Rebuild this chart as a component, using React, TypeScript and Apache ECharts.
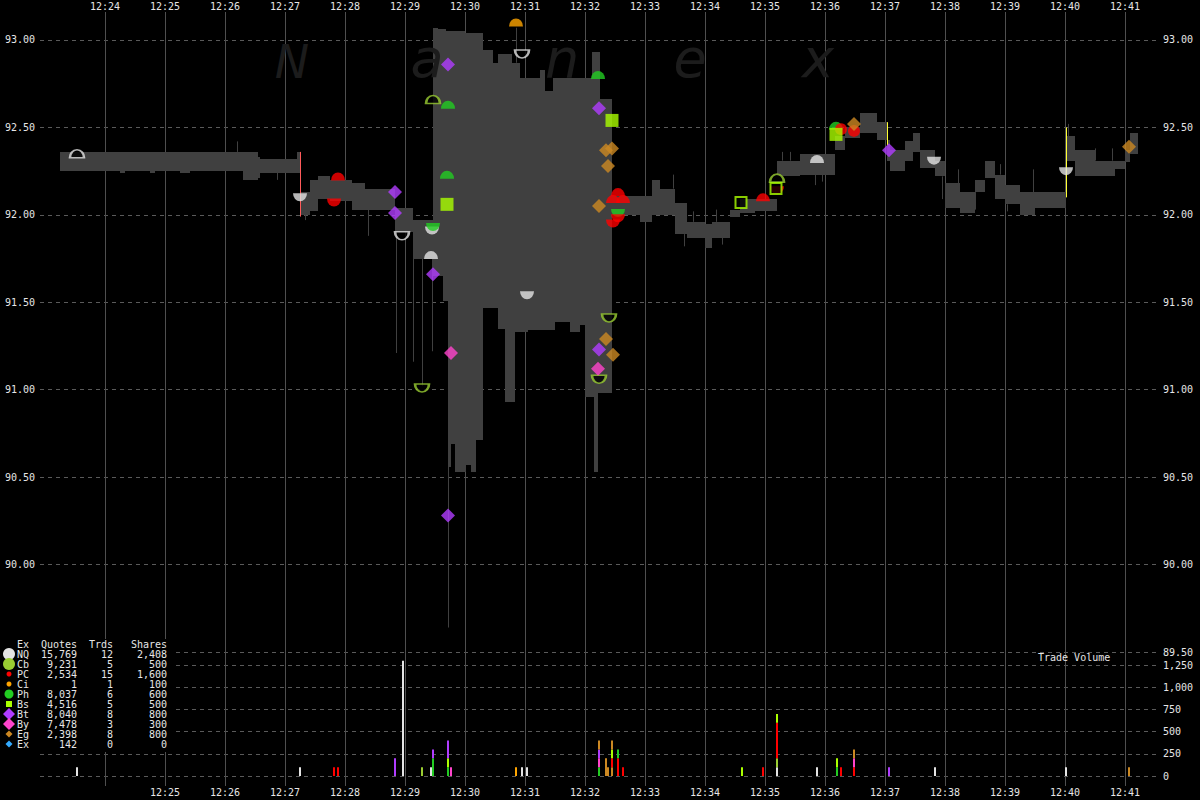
import React, { useEffect, useRef } from 'react';
import * as echarts from 'echarts';

// minute grid labels (top axis shows all, bottom starts at 12:25)
const minuteTicks = [
  '12:24', '12:25', '12:26', '12:27', '12:28', '12:29', '12:30', '12:31', '12:32',
  '12:33', '12:34', '12:35', '12:36', '12:37', '12:38', '12:39', '12:40', '12:41',
];

// NBBO band: each row lasts until the next time (last one until bandEnd)
const bandTimes = [
  '12:23:15', '12:24:15', '12:24:20', '12:24:45', '12:24:50', '12:25:15', '12:25:25', '12:26:18',
  '12:26:33', '12:26:35', '12:27:12', '12:27:15', '12:27:25', '12:27:33', '12:27:45', '12:28:07',
  '12:28:20', '12:28:50', '12:29:08', '12:29:28', '12:29:33', '12:29:38', '12:29:41', '12:29:43',
  '12:29:46', '12:29:50', '12:30:00', '12:30:01', '12:30:06', '12:30:11', '12:30:18', '12:30:28',
  '12:30:33', '12:30:40', '12:30:47', '12:30:50', '12:30:55', '12:31:03', '12:31:15', '12:31:20',
  '12:31:28', '12:31:30', '12:31:45', '12:31:55', '12:32:00', '12:32:07', '12:32:09', '12:32:13',
  '12:32:15', '12:32:27', '12:32:55', '12:33:07', '12:33:15', '12:33:30', '12:33:42', '12:34:00',
  '12:34:07', '12:34:25', '12:34:35', '12:34:50', '12:35:12', '12:35:35', '12:36:10', '12:36:20',
  '12:36:35', '12:36:52', '12:37:02', '12:37:05', '12:37:20', '12:37:28', '12:37:35', '12:37:50',
  '12:38:00', '12:38:15', '12:38:30', '12:38:40', '12:38:50', '12:39:00', '12:39:15', '12:39:30',
  '12:40:01', '12:40:10', '12:40:30', '12:40:50', '12:41:00', '12:41:05',
];
const bandAsk = [
  92.36, 92.36, 92.36, 92.36, 92.36, 92.36, 92.36, 92.36,
  92.33, 92.32, 92.36, 92.13, 92.20, 92.22, 92.20, 92.18,
  92.15, 92.04, 91.97, 93.07, 93.06, 93.06, 93.05, 93.05,
  93.05, 93.05, 93.04, 93.04, 93.04, 93.04, 92.94, 92.87,
  92.92, 92.92, 92.87, 92.87, 92.78, 92.78, 92.83, 92.71,
  92.78, 92.78, 92.78, 92.78, 92.78, 92.93, 92.93, 92.93,
  92.66, 92.11, 92.11, 92.20, 92.15, 92.07, 91.96, 91.95,
  91.96, 92.03, 92.09, 92.09, 92.31, 92.35, 92.45, 92.50,
  92.58, 92.53, 92.43, 92.37, 92.42, 92.47, 92.37, 92.31,
  92.18, 92.13, 92.20, 92.31, 92.23, 92.17, 92.13, 92.13,
  92.45, 92.37, 92.31, 92.31, 92.37, 92.47,
];
const bandBid = [
  92.25, 92.24, 92.25, 92.24, 92.25, 92.24, 92.25, 92.20,
  92.21, 92.24, 92.24, 92.00, 92.02, 92.09, 92.08, 92.03,
  92.03, 91.90, 91.75, 91.65, 91.65, 91.51, 91.51, 90.56,
  90.69, 90.53, 90.53, 90.57, 90.53, 90.71, 91.47, 91.47,
  91.35, 90.93, 90.93, 91.33, 91.33, 91.34, 91.34, 91.34,
  91.34, 91.39, 91.33, 91.37, 90.96, 90.96, 90.53, 90.98,
  90.98, 92.00, 91.96, 92.00, 92.00, 91.89, 91.87, 91.81,
  91.87, 91.99, 92.01, 92.02, 92.22, 92.23, 92.37, 92.44,
  92.47, 92.43, 92.31, 92.25, 92.31, 92.36, 92.27, 92.22,
  92.04, 92.01, 92.13, 92.21, 92.09, 92.06, 92.00, 92.04,
  92.31, 92.22, 92.22, 92.26, 92.30, 92.35,
];
const bandEnd = '12:41:13';

// thin quote flickers [time, high, low]
const quoteSpikes: [string, number, number][] = [
  ['12:26:12', 92.42, 92.36],
  ['12:26:52', 92.24, 92.20],
  ['12:27:20', 92.00, 91.97],
  ['12:28:23', 92.03, 91.88],
  ['12:28:51', 92.04, 91.21],
  ['12:29:08', 91.90, 91.16],
  ['12:29:17', 91.75, 91.02],
  ['12:29:27', 91.75, 91.22],
  ['12:29:43', 90.56, 89.64],
  ['12:30:51', 93.07, 92.87],
  ['12:33:28', 92.23, 92.15],
  ['12:33:39', 91.89, 91.82],
  ['12:33:48', 92.02, 91.96],
  ['12:34:11', 92.03, 91.96],
  ['12:34:17', 91.87, 91.83],
  ['12:35:17', 92.36, 92.31],
  ['12:35:25', 92.36, 92.31],
  ['12:35:50', 92.23, 92.17],
  ['12:35:57', 92.23, 92.19],
  ['12:37:57', 92.22, 92.09],
  ['12:38:13', 92.26, 92.18],
  ['12:38:30', 92.13, 92.03],
  ['12:38:55', 92.29, 92.23],
  ['12:39:02', 92.06, 92.02],
  ['12:39:28', 92.26, 92.13],
  ['12:40:03', 92.52, 92.45],
  ['12:40:30', 92.38, 92.31],
  ['12:40:47', 92.38, 92.31],
];
const redPrints: [string, number, number][] = [['12:27:15', 92.36, 91.99]];
const yellowPrints: [string, number, number][] = [
  ['12:37:02', 92.53, 92.40],
  ['12:40:01', 92.50, 92.10],
];

// exchange summary table
const exCodes = ['NQ', 'Cb', 'PC', 'Ci', 'Ph', 'Bs', 'Bt', 'By', 'Eg', 'Ex'];
const exQuotes = [15769, 9231, 2534, 1, 8037, 4516, 8040, 7478, 2398, 142];
const exTrades = [12, 5, 15, 1, 6, 5, 8, 3, 8, 0];
const exShares = [2408, 500, 1600, 100, 600, 500, 800, 300, 800, 0];

// markers [time, price, kind]: u/n filled top/bottom half, U/N hollow halves, o full, O hollow
const nqMarks: [string, number, string][] = [
  ['12:23:32', 92.35, 'U'], ['12:27:15', 92.10, 'n'], ['12:28:57', 91.88, 'N'],
  ['12:29:26', 91.77, 'u'], ['12:29:27', 91.91, 'n'], ['12:30:57', 92.92, 'N'],
  ['12:31:02', 91.54, 'n'], ['12:35:52', 92.32, 'u'], ['12:37:49', 92.31, 'n'],
  ['12:40:01', 92.25, 'n'],
];
const cbMarks: [string, number, string][] = [
  ['12:29:28', 92.66, 'U'], ['12:29:17', 91.01, 'N'], ['12:32:24', 91.41, 'N'],
  ['12:32:14', 91.06, 'N'], ['12:35:12', 92.21, 'U'],
];
const pcMarks: [string, number, string][] = [
  ['12:27:53', 92.22, 'u'], ['12:27:49', 92.07, 'n'], ['12:32:28', 92.09, 'u'],
  ['12:32:38', 92.09, 'u'], ['12:32:33', 92.13, 'u'], ['12:32:33', 91.98, 'n'],
  ['12:32:28', 91.95, 'n'], ['12:34:58', 92.10, 'u'], ['12:35:12', 92.14, 'n'],
  ['12:36:16', 92.49, 'o'], ['12:36:29', 92.48, 'o'],
];
const ciMarks: [string, number, string][] = [['12:30:51', 93.10, 'u']];
const phMarks: [string, number, string][] = [
  ['12:32:13', 92.80, 'u'], ['12:29:43', 92.63, 'u'], ['12:29:42', 92.23, 'u'],
  ['12:29:28', 91.93, 'n'], ['12:32:33', 92.01, 'n'], ['12:36:11', 92.51, 'u'],
];
const bsMarks: [string, number, string][] = [
  ['12:32:27', 92.54, 'o'], ['12:29:42', 92.06, 'o'], ['12:34:36', 92.07, 'O'],
  ['12:35:11', 92.15, 'O'], ['12:36:11', 92.46, 'o'],
];
const btMarks: [string, number, string][] = [
  ['12:29:43', 92.86, 'o'], ['12:32:14', 92.61, 'o'], ['12:28:50', 92.13, 'o'],
  ['12:28:50', 92.01, 'o'], ['12:29:28', 91.66, 'o'], ['12:29:43', 90.28, 'o'],
  ['12:32:14', 91.23, 'o'], ['12:37:04', 92.37, 'o'],
];
const byMarks: [string, number, string][] = [
  ['12:29:46', 91.21, 'o'], ['12:32:13', 91.12, 'o'],
];
const egMarks: [string, number, string][] = [
  ['12:32:21', 92.37, 'o'], ['12:32:27', 92.38, 'o'], ['12:32:23', 92.28, 'o'],
  ['12:32:14', 92.05, 'o'], ['12:32:21', 91.29, 'o'], ['12:32:28', 91.20, 'o'],
  ['12:36:29', 92.52, 'o'], ['12:41:04', 92.39, 'o'],
];

// trade volume prints (same time stacks in order)
const volTimes = [
  '12:23:32', '12:27:15', '12:27:49', '12:27:53', '12:28:50', '12:28:58', '12:29:17', '12:29:26',
  '12:29:28', '12:29:28', '12:29:43', '12:29:43', '12:29:43', '12:29:46', '12:30:51', '12:30:57',
  '12:31:02', '12:32:14', '12:32:14', '12:32:14', '12:32:14', '12:32:21', '12:32:23', '12:32:27',
  '12:32:27', '12:32:27', '12:32:27', '12:32:33', '12:32:33', '12:32:38', '12:34:37', '12:34:58',
  '12:35:12', '12:35:12', '12:35:12', '12:35:12', '12:35:52', '12:36:12', '12:36:12', '12:36:16',
  '12:36:29', '12:36:29', '12:36:29', '12:37:04', '12:37:50', '12:40:01', '12:41:04',
];
const volEx = [
  'NQ', 'NQ', 'PC', 'PC', 'Bt', 'NQ', 'Cb', 'NQ',
  'Ph', 'Bt', 'Ph', 'Bs', 'Bt', 'By', 'Ci', 'NQ',
  'NQ', 'Ph', 'By', 'Bt', 'Eg', 'Eg', 'Eg', 'Eg',
  'PC', 'Bs', 'Eg', 'PC', 'Ph', 'PC', 'Bs', 'PC',
  'NQ', 'Cb', 'PC', 'Bs', 'NQ', 'Ph', 'Bs', 'PC',
  'PC', 'By', 'Eg', 'Bt', 'NQ', 'NQ', 'Eg',
];
const volShares = [
  100, 100, 100, 100, 200, 1300, 100, 100,
  200, 100, 100, 100, 200, 100, 100, 100,
  100, 100, 100, 100, 100, 200, 100, 100,
  100, 100, 100, 200, 100, 100, 100, 100,
  100, 100, 400, 100, 100, 100, 100, 100,
  100, 100, 100, 100, 100, 100, 100,
];

const exColors: Record<string, string> = {
  NQ: '#e4e4e4', Cb: '#9acd32', PC: '#ff0000', Ci: '#ffa500', Ph: '#22cc22',
  Bs: '#aaff00', Bt: '#b03cff', By: '#ff44cc', Eg: '#cc8822', Ex: '#33aaff',
};
const exShape: Record<string, string> = {
  NQ: 'circle', Cb: 'circle', PC: 'circle', Ci: 'circle', Ph: 'circle',
  Bs: 'square', Bt: 'diamond', By: 'diamond', Eg: 'diamond', Ex: 'diamond',
};

const FONT = '"DejaVu Sans Mono", monospace';
const TXT = '#e6e6e6';
const BAND = '#404040';
const VLINE = '#4f4f4f';
const DASH = '#5a5a5a';

const toSec = (s: string) => {
  const [h, m, sec] = s.split(':').map(Number);
  return (h - 12) * 3600 + m * 60 + (sec || 0);
};
const minuteLabel = (v: number) => {
  if (v % 60 !== 0) return '';
  const m = v / 60;
  return `12:${m < 10 ? '0' + m : m}`;
};
const isHalf = (v: number) => Math.abs(v * 2 - Math.round(v * 2)) < 1e-6 && v <= 93.0001;

const DOME = 'path://M0,8A8,8,0,0,1,16,8Z';
const BOWL = 'path://M0,0A8,8,0,0,0,16,0Z';

function markerItem(ex: string, t: string, p: number, k: string) {
  const c = exColors[ex];
  const hollow = k === 'U' || k === 'N' || k === 'O';
  const itemStyle = hollow
    ? { color: '#000', borderColor: c, borderWidth: 2 }
    : { color: c, borderWidth: 0 };
  let symbol = 'circle';
  let symbolSize: number | number[] = 12;
  if (k === 'u' || k === 'U') { symbol = DOME; symbolSize = [14, 8]; }
  else if (k === 'n' || k === 'N') { symbol = BOWL; symbolSize = [14, 8]; }
  else if (exShape[ex] === 'square') { symbol = 'rect'; symbolSize = hollow ? 11 : 13; }
  else if (exShape[ex] === 'diamond') { symbol = 'diamond'; symbolSize = 14; }
  return { value: [toSec(t), p], symbol, symbolSize, itemStyle };
}

const App: React.FC = () => {
  const chartRef = useRef<HTMLDivElement | null>(null);

  useEffect(() => {
    if (!chartRef.current) return;
    const chart = echarts.init(chartRef.current, null, { renderer: 'svg' });

    const bandRows = bandTimes.map((t, i) => [
      toSec(t), toSec(bandTimes[i + 1] ?? bandEnd), bandAsk[i], bandBid[i],
    ]);

    // stack volume prints at equal times
    const volRows: number[][] = [];
    let lastT = -1;
    let acc = 0;
    volTimes.forEach((ts, i) => {
      const t = toSec(ts);
      if (t !== lastT) { acc = 0; lastT = t; }
      volRows.push([t, acc, acc + volShares[i], exCodes.indexOf(volEx[i])]);
      acc += volShares[i];
    });

    const lineSeries = (rows: [string, number, number][], color: string, z: number) => ({
      type: 'custom', xAxisIndex: 0, yAxisIndex: 0, silent: true, clip: false, z,
      data: rows.map(([t, hi, lo]) => [toSec(t), hi, lo]),
      encode: { x: 0, y: [1, 2] },
      renderItem: (_p: any, api: any) => {
        const a = api.coord([api.value(0), api.value(1)]);
        const b = api.coord([api.value(0), api.value(2)]);
        const x = Math.round(a[0]) + 0.5;
        return { type: 'line', shape: { x1: x, y1: a[1], x2: x, y2: b[1] }, style: { stroke: color, lineWidth: 1 } };
      },
    });

    const markSets: [string, [string, number, string][]][] = [
      ['NQ', nqMarks], ['Ph', phMarks], ['Cb', cbMarks], ['Ci', ciMarks], ['PC', pcMarks],
      ['Bs', bsMarks], ['Bt', btMarks], ['By', byMarks], ['Eg', egMarks],
    ];

    const axisText = { color: TXT, fontFamily: FONT, fontSize: 10 };

    // exchange table in the lower left corner, on its own black box
    const txt = (text: string, x: number, y: number, align: string) => ({
      type: 'text', x, y, z: 30, silent: true,
      style: {
        text, fill: TXT, font: `10px ${FONT}`,
        align, textAlign: align, verticalAlign: 'middle', textVerticalAlign: 'middle',
      },
    });
    const tableEls: any[] = [
      { type: 'rect', z: 25, silent: true, shape: { x: 0, y: 639, width: 173, height: 113 }, style: { fill: '#000' } },
      txt('Ex', 17, 644, 'left'), txt('Quotes', 77, 644, 'right'),
      txt('Trds', 113, 644, 'right'), txt('Shares', 167, 644, 'right'),
    ];
    const iconSize: Record<string, number> = {
      NQ: 6, Cb: 6, PC: 2.5, Ci: 2.5, Ph: 4.5, Bs: 3, Bt: 6, By: 6, Eg: 3.5, Ex: 3.5,
    };
    exCodes.forEach((code, i) => {
      const y = 654 + i * 10;
      const s = iconSize[code];
      const fill = exColors[code];
      if (exShape[code] === 'circle') {
        tableEls.push({ type: 'circle', z: 30, silent: true, shape: { cx: 9, cy: y, r: s }, style: { fill } });
      } else if (exShape[code] === 'square') {
        tableEls.push({ type: 'rect', z: 30, silent: true, shape: { x: 9 - s, y: y - s, width: 2 * s, height: 2 * s }, style: { fill } });
      } else {
        tableEls.push({
          type: 'polygon', z: 30, silent: true,
          shape: { points: [[9, y - s], [9 + s, y], [9, y + s], [9 - s, y]] }, style: { fill },
        });
      }
      tableEls.push(txt(code, 17, y, 'left'));
      tableEls.push(txt(exQuotes[i].toLocaleString('en-US'), 77, y, 'right'));
      tableEls.push(txt(String(exTrades[i]), 113, y, 'right'));
      tableEls.push(txt(exShares[i].toLocaleString('en-US'), 167, y, 'right'));
    });

    const wm = (ch: string, x: number, y: number, size: number) => ({
      type: 'text', x, y, z: 3, silent: true,
      style: {
        text: ch, fill: '#1c1c1c', font: `italic ${size}px "DejaVu Sans"`,
        align: 'center', textAlign: 'center', verticalAlign: 'middle', textVerticalAlign: 'middle',
      },
    });

    const option: any = {
      animation: false,
      backgroundColor: '#000',
      grid: [
        { left: 40, top: 20, width: 1120, height: 632, outerBoundsMode: 'none' },
        { left: 40, top: 652, width: 1120, height: 124, outerBoundsMode: 'none' },
      ],
      xAxis: [
        {
          gridIndex: 0, type: 'value', position: 'top', min: 1375, max: 2495,
          minInterval: 60, maxInterval: 60,
          axisLine: { show: false }, axisTick: { show: false }, splitLine: { show: false },
          axisLabel: {
            ...axisText, margin: 9,
            formatter: (v: number) => (minuteTicks.includes(minuteLabel(v)) ? minuteLabel(v) : ''),
          },
        },
        {
          gridIndex: 1, type: 'value', position: 'bottom', min: 1375, max: 2495,
          minInterval: 60, maxInterval: 60,
          axisLine: { show: false }, axisTick: { show: false }, splitLine: { show: false },
          axisLabel: {
            ...axisText, margin: 11,
            formatter: (v: number) => (minuteTicks.slice(1).includes(minuteLabel(v)) ? minuteLabel(v) : ''),
          },
        },
      ],
      yAxis: [
        {
          gridIndex: 0, type: 'value', position: 'left', min: 89.5, max: 93 + 20 / 175,
          minInterval: 0.5, maxInterval: 0.5,
          axisLine: { show: false }, axisTick: { show: false },
          splitLine: { show: true, showMaxLine: false, lineStyle: { color: DASH, type: [4, 4], width: 1 } },
          axisLabel: { ...axisText, margin: 5, formatter: (v: number) => (isHalf(v) && v > 89.9 ? v.toFixed(2) : '') },
        },
        {
          gridIndex: 0, type: 'value', position: 'right', min: 89.5, max: 93 + 20 / 175,
          minInterval: 0.5, maxInterval: 0.5,
          axisLine: { show: false }, axisTick: { show: false }, splitLine: { show: false },
          axisLabel: { ...axisText, margin: 3, formatter: (v: number) => (isHalf(v) ? v.toFixed(2) : '') },
        },
        {
          gridIndex: 1, type: 'value', position: 'right', min: 0, max: 1400,
          minInterval: 250, maxInterval: 250,
          axisLine: { show: false }, axisTick: { show: false },
          splitLine: { show: true, showMaxLine: false, lineStyle: { color: DASH, type: [4, 4], width: 1 } },
          axisLabel: {
            ...axisText, margin: 3,
            formatter: (v: number) => (v % 250 === 0 ? v.toLocaleString('en-US') : ''),
          },
        },
      ],
      graphic: [
        ...tableEls,
        wm('N', 292, 62, 46), wm('a', 427, 58, 54), wm('n', 562, 58, 54),
        wm('e', 690, 58, 54), wm('x', 818, 58, 54),
        txt('Trade Volume', 1038, 657, 'left'),
      ],
      series: [
        // minute lines, price panel (reach above the panel top)
        {
          type: 'custom', xAxisIndex: 0, yAxisIndex: 0, silent: true, clip: false, z: 1,
          data: minuteTicks.map((m) => [toSec(m + ':00'), 90]),
          encode: { x: 0, y: 1 },
          renderItem: (params: any, api: any) => {
            const cs = params.coordSys;
            const x = Math.round(api.coord([api.value(0), 90])[0]) + 0.5;
            return { type: 'line', shape: { x1: x, y1: cs.y - 8, x2: x, y2: cs.y + cs.height }, style: { stroke: VLINE, lineWidth: 1 } };
          },
        },
        // minute lines, volume panel (reach below the panel bottom)
        {
          type: 'custom', xAxisIndex: 1, yAxisIndex: 2, silent: true, clip: false, z: 1,
          data: minuteTicks.map((m) => [toSec(m + ':00'), 0]),
          encode: { x: 0, y: 1 },
          renderItem: (params: any, api: any) => {
            const cs = params.coordSys;
            const x = Math.round(api.coord([api.value(0), 0])[0]) + 0.5;
            return { type: 'line', shape: { x1: x, y1: cs.y, x2: x, y2: cs.y + cs.height + 10 }, style: { stroke: VLINE, lineWidth: 1 } };
          },
        },
        // bid/ask band
        {
          type: 'custom', xAxisIndex: 0, yAxisIndex: 0, silent: true, z: 2,
          data: bandRows,
          encode: { x: [0, 1], y: [2, 3] },
          renderItem: (_p: any, api: any) => {
            const a = api.coord([api.value(0), api.value(2)]);
            const b = api.coord([api.value(1), api.value(3)]);
            const x = Math.round(a[0]);
            const y = Math.round(a[1]);
            return {
              type: 'rect',
              shape: { x, y, width: Math.round(b[0]) - x, height: Math.round(b[1]) - y },
              style: { fill: BAND },
            };
          },
        },
        lineSeries(quoteSpikes, BAND, 2),
        lineSeries(redPrints, '#ff5a5a', 4),
        lineSeries(yellowPrints, '#ffff33', 4),
        ...markSets.map(([ex, marks], i) => ({
          type: 'scatter', name: ex, xAxisIndex: 0, yAxisIndex: 0, silent: true, z: 5 + i,
          data: marks.map(([t, p, k]) => markerItem(ex, t, p, k)),
        })),
        // stacked trade volume
        {
          type: 'custom', xAxisIndex: 1, yAxisIndex: 2, silent: true, z: 3,
          data: volRows,
          encode: { x: 0, y: [1, 2] },
          renderItem: (_p: any, api: any) => {
            const top = api.coord([api.value(0), api.value(2)]);
            const base = api.coord([api.value(0), api.value(1)]);
            const x = Math.round(top[0]) - 1;
            return {
              type: 'rect',
              shape: { x, y: top[1], width: 2, height: base[1] - top[1] },
              style: { fill: exColors[exCodes[api.value(3)]] },
            };
          },
        },
      ],
    };

    chart.setOption(option);
    return () => {
      chart.dispose();
    };
  }, []);

  return (
    <div
      ref={chartRef}
      style={{ position: 'fixed', left: 0, top: 0, width: 1200, height: 800, background: '#000' }}
    />
  );
};

export default App;
